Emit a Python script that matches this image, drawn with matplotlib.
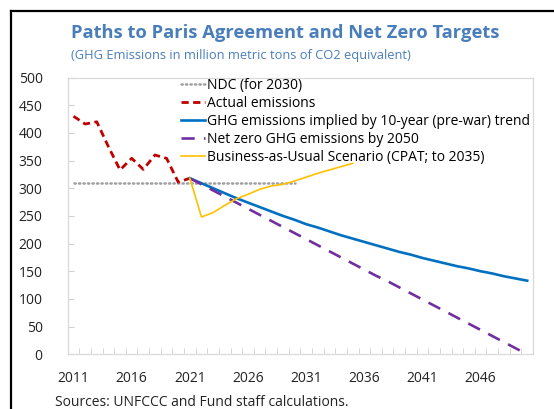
import matplotlib.pyplot as plt
import numpy as np

plt.rcParams['font.family'] = ['Open Sans', 'DejaVu Sans']

# data (million metric tons CO2e)
actual_years = list(range(2011, 2022))
actual = [430, 416, 420, 375, 333, 354, 334, 360, 354, 311, 318]

ndc_years = list(range(2011, 2031))
ndc = [310] * len(ndc_years)

proj_years = list(range(2021, 2051))
trend = [318, 309, 300, 291, 282, 274, 266, 258, 250, 243, 235, 229, 222, 215, 209,
         203, 197, 191, 185, 180, 174, 169, 164, 159, 155, 150, 146, 141, 137, 133]
net_zero = [318, 307, 296, 285, 274, 263, 252, 241, 230, 219, 208, 197, 186, 175, 164,
            153, 142, 132, 121, 110, 99, 88, 77, 66, 55, 44, 33, 22, 11, 0]

bau_years = list(range(2021, 2036))
bau = [318, 248, 256, 269, 281, 289, 298, 304, 307, 313, 320, 327, 333, 339, 345]

year_labels = [2011, 2016, 2021, 2026, 2031, 2036, 2041, 2046]
y_ticks = list(range(0, 501, 50))

fig = plt.figure(figsize=(5.54, 4.09), dpi=100)
ax = fig.add_axes([67.7 / 554, 1 - 354.3 / 409, (533 - 67.7) / 554, (354.3 - 77.5) / 409])

ax.plot(ndc_years, ndc, color="#a0a0a0", lw=1.8, ls=(0, (0.5, 1.3)), dash_capstyle="round",
        label="NDC (for 2030)")
ax.plot(actual_years, actual, color="#c00000", lw=2.0, ls=(0, (2.6, 1.6)),
        label="Actual emissions")
ax.plot(proj_years, trend, color="#0070c0", lw=1.9,
        label="GHG emissions implied by 10-year (pre-war) trend")
ax.plot(proj_years, net_zero, color="#7030a0", lw=1.9, ls=(0, (5, 3.5)),
        label="Net zero GHG emissions by 2050")
ax.plot(bau_years, bau, color="#ffc000", lw=1.2,
        label="Business-as-Usual Scenario (CPAT; to 2035)")

ax.set_xlim(2010.5, 2050.5)
ax.set_ylim(0, 500)
ax.set_xticks(year_labels)
ax.set_xticks(np.arange(2010.5, 2051, 1), minor=True)
ax.set_yticks(y_ticks)
ax.tick_params(axis="x", which="major", length=0, pad=12, labelsize=10, labelcolor="#222222")
ax.tick_params(axis="x", which="minor", direction="in", length=4, color="#d0d0d0")
ax.tick_params(axis="y", direction="in", length=4, color="#d0d0d0", pad=18,
               labelsize=10, labelcolor="#222222")
for s in ax.spines.values():
    s.set_color("#d9d9d9")
    s.set_linewidth(0.9)

ax.legend(loc="upper left", bbox_to_anchor=(181 / 554, 1 - 78 / 409),
          bbox_transform=fig.transFigure, frameon=False, fontsize=10,
          handlelength=1.75, handletextpad=0.1, labelspacing=0.22, borderpad=0,
          borderaxespad=0)

fig.text(71 / 554, 1 - 38 / 409, "Paths to Paris Agreement and Net Zero Targets",
         fontsize=13.2, fontweight="bold", color="#4a7ebb", va="baseline")
fig.text(71 / 554, 1 - 59 / 409, "(GHG Emissions in million metric tons of CO2 equivalent)",
         fontsize=9.3, color="#4a7ebb", va="baseline")
fig.text(55 / 554, 1 - 406 / 409, "Sources: UNFCCC and Fund staff calculations.",
         fontsize=10, color="#222222", va="baseline")

# black frame lines on the top and left edges of the crop
fig.add_artist(plt.Line2D([11 / 554, 11 / 554], [0, 1 - 11 / 409], color="black", lw=1.6,
                          transform=fig.transFigure))
fig.add_artist(plt.Line2D([11 / 554, 1], [1 - 11 / 409, 1 - 11 / 409], color="black", lw=1.6,
                          transform=fig.transFigure))

fig.savefig("out.png", dpi=100)
